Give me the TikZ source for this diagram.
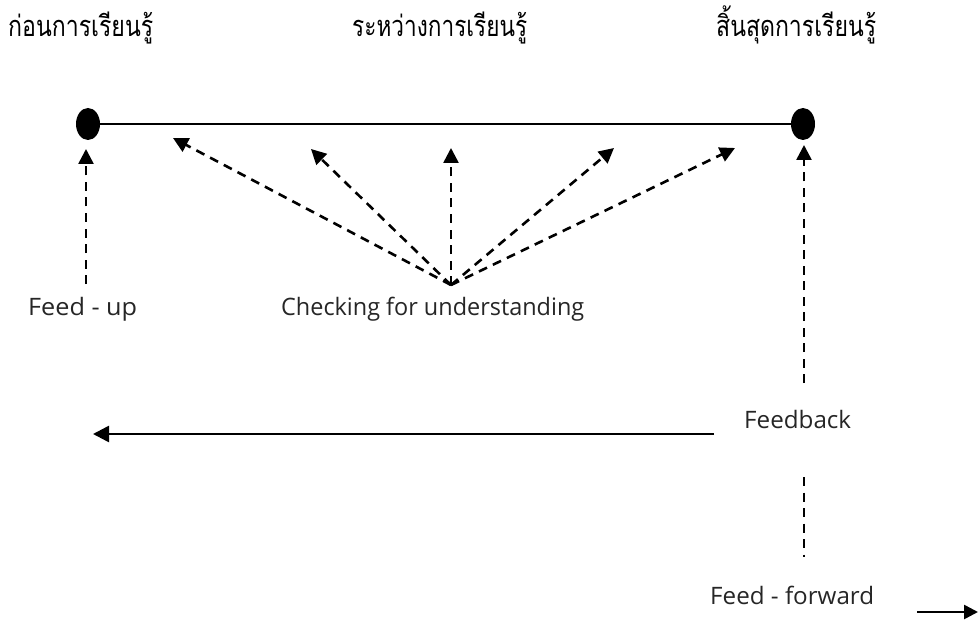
\documentclass[tikz,border=0pt]{standalone}
\usepackage{fontspec}
\usepackage{graphicx}
\usetikzlibrary{arrows.meta,shapes.geometric}
\setmainfont{Open Sans}
\newfontfamily\thaifont[Script=Thai]{Loma}
% fit a label to a given width, keeping its natural height
\newcommand\fitwidth[2]{\resizebox{#1}{\height}{#2}}
\tikzset{
  lbl/.style={inner sep=0pt, anchor=base west, font=\fontsize{24}{28}\selectfont, text=black!85},
  thlbl/.style={inner sep=0pt, anchor=base west, font=\thaifont\fontsize{29}{33}\selectfont},
  dot/.style={ellipse, fill=black, minimum width=24pt, minimum height=32pt, inner sep=0pt, outer sep=0pt},
  tip/.style={-{Triangle[length=15pt,width=15pt]}},
  dashline/.style={line width=2.6pt, dash pattern=on 9pt off 6.5pt},
}
\begin{document}
\begin{tikzpicture}[x=1pt,y=-1pt]
  \useasboundingbox (0,0) rectangle (978,623);

  % stage headings
  \node[thlbl] (before) at (8,37)   {\fitwidth{145pt}{ก่อนการเรียนรู้}};
  \node[thlbl] (during) at (352,37) {\fitwidth{175pt}{ระหว่างการเรียนรู้}};
  \node[thlbl] (after)  at (716,37) {\fitwidth{160pt}{สิ้นสุดการเรียนรู้}};

  % time line
  \node[dot] (start) at (88,124) {};
  \node[dot] (end)   at (803,124) {};
  \draw[line width=2.2pt] (start.east) -- (end.west);

  % labels
  \node[lbl] (fup)   at (28,315)  {\fitwidth{109pt}{Feed - up}};
  \node[lbl] (check) at (281,315) {\fitwidth{303pt}{Checking for understanding}};
  \node[lbl] (fback) at (744,428) {\fitwidth{107pt}{Feedback}};
  \node[lbl] (ffwd)  at (710,604) {\fitwidth{164pt}{Feed - forward}};

  % arrow end points
  \coordinate (fupfoot) at (86,284);
  \coordinate (fuptip)  at (86,149);
  \coordinate (apex)    at (451,285);
  \coordinate (c1) at (173,138);
  \coordinate (c2) at (311,149);
  \coordinate (c3) at (451,148);
  \coordinate (c4) at (614,148);
  \coordinate (c5) at (735,148);
  \coordinate (fbfoot) at (804,383);
  \coordinate (fbtip)  at (804,145);
  \coordinate (ffhigh) at (804,477);
  \coordinate (fflow)  at (804,557);
  \coordinate (backstart) at (714,434);
  \coordinate (backend)   at (93,434);
  \coordinate (fwdstart)  at (917,612);
  \coordinate (fwdend)    at (978,612);

  % feed-up
  \draw[dashline, tip] (fupfoot) -- (fuptip);
  % checking for understanding
  \foreach \c in {c1,c2,c3,c4,c5}
    \draw[dashline, tip] (apex) -- (\c);
  % feedback
  \draw[dashline, tip] (fbfoot) -- (fbtip);
  \draw[dashline] (ffhigh) -- (fflow);
  \draw[line width=2.6pt, -{Triangle[length=16pt,width=16pt]}] (backstart) -- (backend);
  \draw[line width=2.6pt, -{Triangle[length=14pt,width=14pt]}] (fwdstart) -- (fwdend);
\end{tikzpicture}
\end{document}
